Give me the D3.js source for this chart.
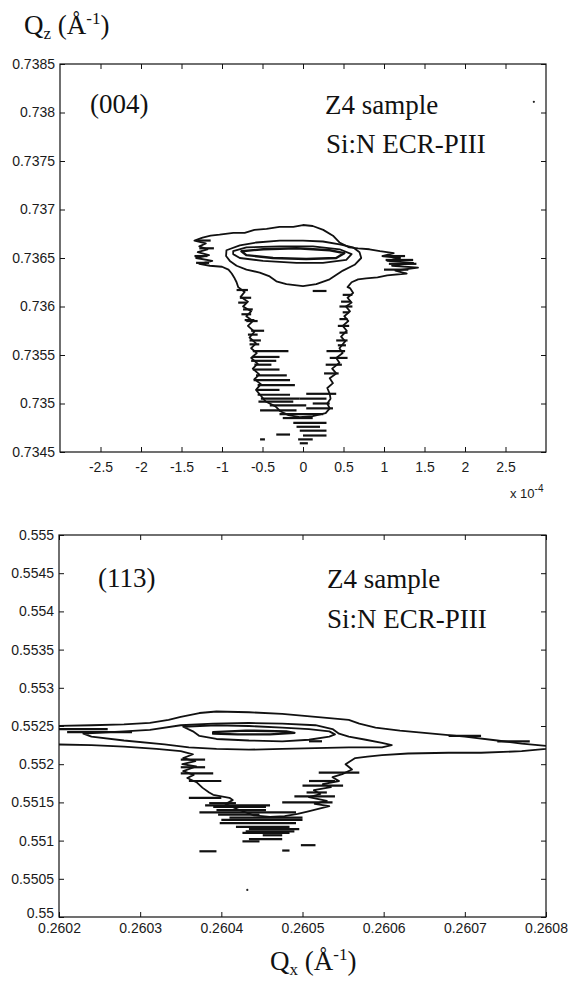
<!DOCTYPE html>
<html>
<head>
<meta charset="utf-8">
<script src="https://cdn.jsdelivr.net/npm/d3@7"></script>
<style>
  body { margin: 0; background: #fff; }
  svg { display: block; }
  .tick text { font-family: "Liberation Sans", Arial, sans-serif; font-size: 14px; fill: #1a1a1a; }
  .tick line { stroke: #111; }
  .lbl { font-family: "Liberation Serif", "Times New Roman", serif; fill: #111; }
</style>
</head>
<body>
<svg id="fig" width="569" height="982"></svg>
<script>
// ---- tick values ----
var topXTicks = [-2.5, -2, -1.5, -1, -0.5, 0, 0.5, 1, 1.5, 2, 2.5];
var topYTicks = [0.7345, 0.735, 0.7355, 0.736, 0.7365, 0.737, 0.7375, 0.738, 0.7385];
var botXTicks = [0.2602, 0.2603, 0.2604, 0.2605, 0.2606, 0.2607, 0.2608];
var botYTicks = [0.55, 0.5505, 0.551, 0.5515, 0.552, 0.5525, 0.553, 0.5535, 0.554, 0.5545, 0.555];

// ---- (004) map: Qx in units of 1e-4, Qz in 1/A ----
var top004Outer = [
  [-1.03, 0.73674], [-0.86, 0.73676], [-0.72, 0.73676], [-0.60, 0.73679], [-0.45, 0.73680],
  [-0.29, 0.73682], [-0.12, 0.73682], [0.0, 0.73684], [0.12, 0.73683], [0.25, 0.73679],
  [0.37, 0.73673], [0.45, 0.73666], [0.57, 0.73661], [0.68, 0.73660], [0.82, 0.73659],
  [0.95, 0.73657], [1.12, 0.73655], [0.98, 0.73652], [1.20, 0.73650], [1.04, 0.73647],
  [1.36, 0.73645], [1.10, 0.73642], [1.42, 0.73640], [1.14, 0.73637], [1.28, 0.73634],
  [1.04, 0.73632], [0.92, 0.73630], [0.78, 0.73629], [0.68, 0.73628], [0.60, 0.73625],
  [0.55, 0.73620], [0.58, 0.73619], [0.62, 0.73614], [0.55, 0.73609], [0.60, 0.73604],
  [0.53, 0.73600], [0.58, 0.73595], [0.51, 0.73590], [0.56, 0.73585], [0.49, 0.73580],
  [0.54, 0.73575], [0.47, 0.73569], [0.52, 0.73564], [0.45, 0.73557], [0.49, 0.73552],
  [0.41, 0.73547], [0.45, 0.73542], [0.36, 0.73536], [0.41, 0.73531], [0.33, 0.73526],
  [0.37, 0.73521], [0.30, 0.73516], [0.33, 0.73510], [0.34, 0.73505], [0.30, 0.73500],
  [0.33, 0.73495], [0.28, 0.73490], [0.12, 0.73487], [-0.04, 0.73486], [-0.18, 0.73488],
  [-0.28, 0.73492], [-0.34, 0.73497], [-0.46, 0.73502], [-0.52, 0.73508], [-0.58, 0.73514],
  [-0.52, 0.73520], [-0.60, 0.73525], [-0.54, 0.73530], [-0.62, 0.73536], [-0.56, 0.73541],
  [-0.64, 0.73547], [-0.57, 0.73552], [-0.64, 0.73557], [-0.58, 0.73562], [-0.66, 0.73568],
  [-0.60, 0.73574], [-0.68, 0.73580], [-0.62, 0.73585], [-0.70, 0.73590], [-0.64, 0.73595],
  [-0.74, 0.73600], [-0.68, 0.73605], [-0.77, 0.73610], [-0.72, 0.73615], [-0.80, 0.73620],
  [-0.82, 0.73625], [-0.85, 0.73630], [-0.88, 0.73634], [-0.92, 0.73638], [-1.00, 0.73641],
  [-1.15, 0.73642], [-1.28, 0.73644], [-1.12, 0.73647], [-1.32, 0.73650], [-1.16, 0.73653],
  [-1.30, 0.73656], [-1.18, 0.73659], [-1.28, 0.73662], [-1.20, 0.73665], [-1.34, 0.73668],
  [-1.24, 0.73671], [-1.14, 0.73673]
];
var top004Ring2 = [
  [-0.945, 0.73658], [-0.78, 0.73663], [-0.575, 0.73666], [-0.287, 0.73668], [0.0, 0.73668],
  [0.246, 0.73667], [0.452, 0.73664], [0.616, 0.73661], [0.698, 0.73656], [0.719, 0.73650],
  [0.637, 0.73643], [0.493, 0.73637], [0.329, 0.73628], [0.164, 0.73623], [0.0, 0.73621],
  [-0.205, 0.73623], [-0.329, 0.73626], [-0.411, 0.73631], [-0.534, 0.73635], [-0.698, 0.73638],
  [-0.82, 0.73642], [-0.903, 0.73647], [-0.95, 0.73652]
];
var top004Ring3 = [
  [-0.862, 0.73657], [-0.698, 0.73661], [-0.287, 0.73662], [0.123, 0.73662], [0.452, 0.73659],
  [0.60, 0.73654], [0.534, 0.73648], [0.246, 0.73645], [-0.082, 0.73645], [-0.493, 0.73647],
  [-0.78, 0.73650], [-0.862, 0.73654]
];
var top004Core = [
  [-0.76, 0.73657], [-0.49, 0.73659], [-0.08, 0.73660], [0.33, 0.73658], [0.51, 0.73655],
  [0.41, 0.73650], [0.04, 0.73649], [-0.37, 0.73650], [-0.70, 0.73653]
];
// horizontal noise streaks: [x from, x to, Qz]
var top004Streaks = [
  [-0.62, -0.18, 0.73554], [-0.63, -0.29, 0.73548], [-0.64, -0.33, 0.73544], [-0.60, -0.39, 0.73540],
  [-0.62, -0.29, 0.73535], [-0.58, -0.20, 0.73529], [-0.61, -0.16, 0.73524], [-0.56, -0.10, 0.73519],
  [-0.58, -0.29, 0.73514], [-0.56, -0.16, 0.73509], [-0.52, -0.04, 0.73505], [-0.55, -0.12, 0.73502],
  [-0.41, 0.04, 0.73498], [-0.53, -0.08, 0.73493], [-0.29, 0.25, 0.73489], [-0.25, 0.12, 0.73485],
  [-0.12, 0.29, 0.73480], [-0.08, 0.21, 0.73476], [-0.04, 0.29, 0.73472], [-0.33, -0.16, 0.73468],
  [0.0, 0.29, 0.73467], [-0.53, -0.47, 0.73463], [-0.06, 0.12, 0.73463], [-0.04, 0.06, 0.73459],
  [0.04, 0.41, 0.73510], [-0.04, 0.29, 0.73505], [0.12, 0.33, 0.73500], [0.04, 0.37, 0.73495],
  [0.29, 0.52, 0.73554], [0.33, 0.55, 0.73547], [0.28, 0.48, 0.73540], [0.26, 0.44, 0.73531],
  [0.12, 0.29, 0.73616], [-0.78, -0.64, 0.73609], [-0.70, -0.56, 0.73585], [-0.66, -0.52, 0.73565],
  [-0.64, -0.48, 0.73575], [0.45, 0.61, 0.73600], [0.43, 0.57, 0.73580], [0.41, 0.55, 0.73565],
  [-0.82, -0.68, 0.73617], [-0.80, -0.70, 0.73604], [-0.74, -0.62, 0.73597], [-0.76, -0.64, 0.73592],
  [-0.72, -0.60, 0.73586], [-0.68, -0.56, 0.73571], [-0.66, -0.54, 0.73561],
  [0.49, 0.61, 0.73612], [0.47, 0.59, 0.73605], [0.49, 0.57, 0.73594], [0.45, 0.55, 0.73587],
  [0.45, 0.55, 0.73573], [0.43, 0.53, 0.73560],
  [-1.32, -1.16, 0.73645], [-1.28, -1.10, 0.73660], [-1.34, -1.18, 0.73652], [-1.30, -1.14, 0.73668],
  [1.02, 1.36, 0.73648], [1.00, 1.30, 0.73638], [1.06, 1.40, 0.73644], [0.98, 1.26, 0.73652]
];
var top004Dots = [[2.85, 0.73811]];

// ---- (113) map: Qx, Qz in 1/A ----
var bot113Outer = [
  [0.26019, 0.55226], [0.26024, 0.55225], [0.26028, 0.55223], [0.26032, 0.55220], [0.26035, 0.55217],
  [0.260365, 0.55213], [0.260353, 0.55208], [0.260368, 0.55204], [0.260352, 0.55200], [0.260369, 0.55197],
  [0.260353, 0.55191], [0.260366, 0.55186], [0.260358, 0.55182], [0.26037, 0.55176], [0.260377, 0.55169],
  [0.260385, 0.55163], [0.26039, 0.55160], [0.26041, 0.55156], [0.260414, 0.55153], [0.260405, 0.55148],
  [0.26042, 0.55141], [0.26044, 0.55133], [0.26046, 0.55131], [0.260478, 0.55132], [0.260494, 0.55135],
  [0.260506, 0.55138], [0.260533, 0.55145], [0.260515, 0.55148], [0.26053, 0.55152], [0.260508, 0.55157],
  [0.260522, 0.55161], [0.260514, 0.55166], [0.260535, 0.55170], [0.260525, 0.55174], [0.260545, 0.55178],
  [0.260537, 0.55183], [0.260549, 0.55187], [0.260561, 0.55193], [0.260553, 0.55200], [0.260565, 0.55208],
  [0.26058, 0.55210], [0.260598, 0.55212], [0.26063, 0.55214], [0.26068, 0.55215], [0.26072, 0.55215],
  [0.26077, 0.55217], [0.2608, 0.55220], [0.26081, 0.55223], [0.26077, 0.55227], [0.26074, 0.55231],
  [0.2607, 0.55236], [0.26066, 0.55240], [0.26062, 0.55244], [0.26059, 0.55248], [0.26057, 0.55253],
  [0.260557, 0.55258], [0.260516, 0.55262], [0.260475, 0.55266], [0.260434, 0.55268], [0.260394, 0.55269],
  [0.260373, 0.55267], [0.26035, 0.55262], [0.260335, 0.55258], [0.260312, 0.55254], [0.26028, 0.55252],
  [0.26024, 0.55251], [0.26019, 0.55250]
];
var bot113Ring2 = [
  [0.26023, 0.55240], [0.26028, 0.55243], [0.260312, 0.55245], [0.26035, 0.55251], [0.26039, 0.55253],
  [0.260434, 0.55254], [0.260475, 0.55253], [0.260516, 0.55251], [0.260537, 0.55246], [0.260545, 0.55240],
  [0.260557, 0.55236], [0.260578, 0.55232], [0.260598, 0.55228], [0.26061, 0.55225], [0.260598, 0.55222],
  [0.260557, 0.55222], [0.260516, 0.55221], [0.260475, 0.55220], [0.260434, 0.55219], [0.260394, 0.55220],
  [0.26036, 0.55222], [0.26033, 0.55226], [0.26028, 0.55231], [0.26024, 0.55236]
];
var bot113Ring3 = [
  [0.260353, 0.55249], [0.260365, 0.55243], [0.260373, 0.55237], [0.260394, 0.55233], [0.260434, 0.55231],
  [0.260475, 0.55230], [0.260508, 0.55232], [0.260533, 0.55236], [0.26054, 0.55239], [0.260533, 0.55243],
  [0.260508, 0.55246], [0.260475, 0.55248], [0.260434, 0.55250], [0.260394, 0.55251]
];
var bot113Core = [
  [0.26039, 0.55242], [0.26043, 0.55244], [0.26048, 0.55243], [0.26049, 0.55241], [0.26046, 0.55239],
  [0.26042, 0.55239], [0.26039, 0.55240]
];
var bot113Streaks = [
  [0.260385, 0.260418, 0.55149], [0.26039, 0.260455, 0.55144], [0.260475, 0.260537, 0.55150],
  [0.260394, 0.260455, 0.55140], [0.260373, 0.260492, 0.55137], [0.260396, 0.260447, 0.55134],
  [0.26041, 0.2605, 0.55130], [0.260398, 0.260492, 0.55123], [0.260418, 0.260484, 0.55118],
  [0.260434, 0.260496, 0.55115], [0.260426, 0.260484, 0.55110], [0.260451, 0.260475, 0.55107],
  [0.260434, 0.260475, 0.55102], [0.260426, 0.260447, 0.55099], [0.260498, 0.260516, 0.55094],
  [0.260475, 0.260484, 0.55087], [0.260373, 0.260394, 0.55086], [0.26036, 0.26040, 0.55156],
  [0.260508, 0.26054, 0.55178], [0.260505, 0.26053, 0.55163], [0.26035, 0.26038, 0.55196],
  [0.26035, 0.26038, 0.55206], [0.26035, 0.26039, 0.55188], [0.26036, 0.2604, 0.55178],
  [0.26052, 0.26057, 0.55189], [0.26050, 0.26055, 0.55172], [0.26049, 0.26054, 0.55158],
  [0.26038, 0.26046, 0.55146], [0.26040, 0.26050, 0.55127], [0.26043, 0.26049, 0.55112],
  [0.2602, 0.26026, 0.55246], [0.26021, 0.26029, 0.55242], [0.26068, 0.26072, 0.55237],
  [0.26074, 0.26078, 0.55230], [0.260508, 0.260524, 0.55230]
];
var bot113Dots = [[0.260432, 0.550355]];

var svg = d3.select("#fig");

function drawPanel(o) {
  var w = o.right - o.left, h = o.bottom - o.top;
  var x = d3.scaleLinear().domain(o.xDomain).range([0, w]);
  var y = d3.scaleLinear().domain(o.yDomain).range([h, 0]);
  var g = svg.append("g").attr("transform", "translate(" + o.left + "," + o.top + ")");

  g.append("clipPath").attr("id", o.id + "clip")
    .append("rect").attr("width", w).attr("height", h);

  var plot = g.append("g").attr("clip-path", "url(#" + o.id + "clip)");
  var line = d3.line().x(function(d){ return x(d[0]); }).y(function(d){ return y(d[1]); });

  o.rings.forEach(function(r){
    plot.append("path")
      .attr("d", line(r.pts) + (r.closed ? "Z" : ""))
      .attr("fill", "none").attr("stroke", "#111")
      .attr("stroke-width", r.sw).attr("stroke-linejoin", "round");
  });
  plot.selectAll(".streak").data(o.streaks).enter().append("line")
    .attr("class", "streak")
    .attr("x1", function(d){ return x(d[0]); })
    .attr("x2", function(d){ return x(d[1]); })
    .attr("y1", function(d){ return y(d[2]); })
    .attr("y2", function(d){ return y(d[2]); })
    .attr("stroke", "#111").attr("stroke-width", 2.2);
  plot.selectAll(".dot").data(o.dots).enter().append("circle")
    .attr("cx", function(d){ return x(d[0]); })
    .attr("cy", function(d){ return y(d[1]); })
    .attr("r", 1.1).attr("fill", "#222");

  // MATLAB style: inward ticks on all four sides
  g.append("g").attr("transform", "translate(0," + h + ")")
    .call(d3.axisBottom(x).tickValues(o.xTicks).tickFormat(o.xFmt)
      .tickSizeInner(-5).tickSizeOuter(0).tickPadding(o.xPad));
  g.append("g")
    .call(d3.axisTop(x).tickValues(o.xTicks).tickFormat("")
      .tickSizeInner(-5).tickSizeOuter(0));
  var yAx = g.append("g")
    .call(d3.axisLeft(y).tickValues(o.yTicks).tickFormat(function(d){ return String(+d.toFixed(5)); })
      .tickSizeInner(-5).tickSizeOuter(0).tickPadding(5));
  if (o.lowYLift) {
    // lowest label sits a little above the corner so it clears the first x label
    yAx.selectAll(".tick").filter(function(d){ return d === o.yDomain[0]; })
      .select("text").attr("y", -o.lowYLift);
  }
  g.append("g").attr("transform", "translate(" + w + ",0)")
    .call(d3.axisRight(y).tickValues(o.yTicks).tickFormat("")
      .tickSizeInner(-5).tickSizeOuter(0));
  g.selectAll(".domain").remove();

  g.append("rect").attr("width", w).attr("height", h)
    .attr("fill", "none").attr("stroke", "#111").attr("stroke-width", 1.2);
  return g;
}

drawPanel({
  id: "p004", left: 60, right: 546, top: 64, bottom: 452,
  xDomain: [-3, 3], yDomain: [0.7345, 0.7385],
  xTicks: topXTicks, yTicks: topYTicks, xPad: 10,
  xFmt: function(d){ return String(d); },
  rings: [
    { pts: top004Outer, closed: true, sw: 1.8 },
    { pts: top004Ring2, closed: true, sw: 1.8 },
    { pts: top004Ring3, closed: true, sw: 1.8 },
    { pts: top004Core, closed: true, sw: 2.4 }
  ],
  streaks: top004Streaks, dots: top004Dots
});

drawPanel({
  id: "p113", left: 59, right: 546, top: 535, bottom: 917,
  xDomain: [0.2602, 0.2608], yDomain: [0.55, 0.555],
  xTicks: botXTicks, yTicks: botYTicks, xPad: 6, lowYLift: 4,
  xFmt: function(d){ return d.toFixed(4); },
  rings: [
    { pts: bot113Outer, closed: false, sw: 1.8 },
    { pts: bot113Ring2, closed: true, sw: 1.8 },
    { pts: bot113Ring3, closed: true, sw: 1.8 },
    { pts: bot113Core, closed: true, sw: 2.4 }
  ],
  streaks: bot113Streaks, dots: bot113Dots
});

// ---- labels ----
function qLabel(xp, yp, sub) {
  var t = svg.append("text").attr("class", "lbl").attr("x", xp).attr("y", yp)
    .style("font-size", "27px");
  t.append("tspan").text("Q");
  t.append("tspan").attr("dy", 5).style("font-size", "17px").text(sub);
  t.append("tspan").attr("dy", -5).text(" (Å");
  t.append("tspan").attr("dy", -10).style("font-size", "17px").text("-1");
  t.append("tspan").attr("dy", 10).text(")");
}
qLabel(24, 34, "z");
qLabel(270, 970, "x");

function note(xp, yp, s) {
  svg.append("text").attr("class", "lbl").attr("x", xp).attr("y", yp)
    .style("font-size", "27px").text(s);
}
note(90, 113, "(004)");
note(325, 114, "Z4 sample");
note(326, 153, "Si:N ECR-PIII");
note(98, 587, "(113)");
note(327, 588, "Z4 sample");
note(327, 628, "Si:N ECR-PIII");

var ex = svg.append("text").attr("x", 510).attr("y", 498)
  .style("font-family", "Liberation Sans, Arial, sans-serif").style("font-size", "13px").attr("fill", "#1a1a1a");
ex.append("tspan").text("x 10");
ex.append("tspan").attr("dy", -6).style("font-size", "10px").text("-4");
</script>
</body>
</html>
